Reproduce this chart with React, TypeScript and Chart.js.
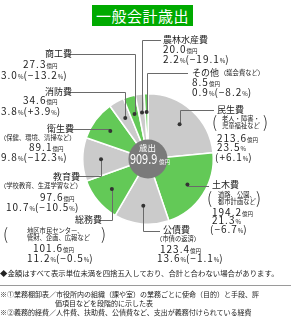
import React, { useEffect, useRef } from "react";
import { Chart, registerables } from "chart.js";
Chart.register(...registerables);

const categories = ["民生費", "土木費", "公債費", "総務費", "教育費", "衛生費", "消防費", "商工費", "農林水産費", "その他"];
const amounts = [213.6, 194.2, 123.4, 101.6, 97.6, 89.1, 34.6, 27.3, 20.0, 8.5];
const shares = [23.5, 21.3, 13.6, 11.2, 10.7, 9.8, 3.8, 3.0, 2.2, 0.9];
const changes = [6.1, -6.7, -1.1, -0.5, -10.5, -12.3, 3.9, -13.2, -19.1, -8.2];
const notes: string[][] = [
  ["老人・障害・", "児童福祉など"],
  ["道路、公園、", "都市計画など"],
  ["（市債の返済）"],
  ["地区市民センター、", "管財、企画、広報など"],
  ["（学校教育、生涯学習など）"],
  ["（保健、環境、清掃など）"],
  [],
  [],
  [],
  ["（議会費など）"],
];
const titleText = "一般会計歳出";
const centerLabel = "歳出";
const total = 909.9;
const unit = "億円";
const footnotes = [
  "◆金額はすべて表示単位未満を四捨五入しており、合計と合わない場合があります。",
  "※①業務棚卸表／市役所内の組織（課や室）の業務ごとに使命（目的）と手段、評",
  "価項目などを段階的に示した表",
  "※②義務的経費／人件費、扶助費、公債費など、支出が義務付けられている経費",
];

const GREEN = "#63c957";
const GREY = "#cbcbcb";
const sliceColors = categories.map((_, i) => (i % 2 === 0 ? GREY : GREEN));

// leader line layout: elbow y and end x for each category
const elbowY = [110, 186, 231, 220, 176, 129, 92, 54, 40, 73];
const endX = [214, 209, 160, 99, 76, 68, 68, 68, 161, 188];

type Pos = { x: number; y: number };
type Layout = {
  name: Pos;
  bracket?: { x: number; y1: number; y2: number; noteX: number; closeX: number };
  note?: Pos;
  amount: Pos;
  share: Pos;
  change?: Pos;
};
const layouts: Layout[] = [
  { name: { x: 217, y: 110 }, bracket: { x: 212, y1: 120, y2: 127, noteX: 222, closeX: 263 }, amount: { x: 217, y: 139 }, share: { x: 217, y: 148 }, change: { x: 215, y: 158 } },
  { name: { x: 212, y: 185 }, bracket: { x: 207, y1: 196, y2: 203, noteX: 218, closeX: 256 }, amount: { x: 212, y: 213 }, share: { x: 212, y: 221 }, change: { x: 210, y: 230 } },
  { name: { x: 163, y: 230 }, note: { x: 156, y: 240 }, amount: { x: 160, y: 250 }, share: { x: 157, y: 259 } },
  { name: { x: 75, y: 220 }, bracket: { x: 3, y1: 232, y2: 239, noteX: 27, closeX: 101 }, amount: { x: 33, y: 249 }, share: { x: 27, y: 259 } },
  { name: { x: 53, y: 177 }, note: { x: 0, y: 187 }, amount: { x: 40, y: 198 }, share: { x: 6, y: 208 } },
  { name: { x: 47, y: 129 }, note: { x: 0, y: 139 }, amount: { x: 29, y: 148 }, share: { x: 1, y: 158 } },
  { name: { x: 45, y: 92 }, amount: { x: 23, y: 101 }, share: { x: 1, y: 112 } },
  { name: { x: 45, y: 54 }, amount: { x: 23, y: 65 }, share: { x: 1, y: 76 } },
  { name: { x: 163, y: 40 }, amount: { x: 163, y: 50 }, share: { x: 163, y: 60 } },
  { name: { x: 192, y: 73 }, note: { x: 220, y: 74 }, amount: { x: 192, y: 83 }, share: { x: 192, y: 93 } },
];

const FONT = '"Noto Sans CJK JP", "Noto Sans CJK SC", sans-serif';

function T({ x, y, size, children, color = "#222", style = {} }: any) {
  return (
    <div
      style={{
        position: "absolute",
        left: x,
        top: y - size * 0.56,
        fontSize: size,
        lineHeight: size + "px",
        whiteSpace: "nowrap",
        color,
        ...style,
      }}
    >
      {children}
    </div>
  );
}

const fmtChange = (v: number) => (v >= 0 ? "+" : "−") + Math.abs(v).toFixed(1);
const small = (s: string, size = 5.5) => <span style={{ fontSize: size, letterSpacing: 0 }}>{s}</span>;

const overlayPlugin = {
  id: "overlay",
  afterDatasetsDraw(chart: any) {
    const ctx = chart.ctx;
    const arcs = chart.getDatasetMeta(0).data;
    const c = arcs[0].getProps(["x", "y", "outerRadius"], true);
    ctx.save();
    ctx.fillStyle = "#7a7a7a";
    ctx.beginPath();
    ctx.arc(c.x, c.y, c.outerRadius * 0.3, 0, Math.PI * 2);
    ctx.fill();
    arcs.forEach((arc: any, i: number) => {
      const p = arc.getProps(["x", "y", "startAngle", "endAngle", "outerRadius"], true);
      const mid = (p.startAngle + p.endAngle) / 2;
      const r = p.outerRadius * 0.72;
      const dx = p.x + Math.cos(mid) * r;
      const dy = p.y + Math.sin(mid) * r;
      const lx = Math.round(dx) + 0.5;
      const ly = elbowY[i] + 0.5;
      ctx.strokeStyle = "#6a6a6a";
      ctx.lineWidth = 1;
      ctx.beginPath();
      ctx.moveTo(lx, dy);
      ctx.lineTo(lx, ly);
      ctx.lineTo(endX[i], ly);
      ctx.stroke();
      ctx.fillStyle = "#333";
      ctx.beginPath();
      ctx.arc(dx, dy, 2, 0, Math.PI * 2);
      ctx.fill();
    });
    ctx.restore();
  },
};

export default function App() {
  const ref = useRef<HTMLCanvasElement>(null);
  useEffect(() => {
    const chart = new Chart(ref.current!, {
      type: "doughnut",
      data: {
        labels: categories,
        datasets: [
          {
            data: amounts,
            backgroundColor: sliceColors,
            borderColor: "#ffffff",
            borderWidth: 1.5,
          },
        ],
      },
      options: {
        responsive: false,
        animation: false,
        events: [],
        cutout: "25%",
        layout: { padding: { left: 82, top: 93, right: 79, bottom: 99 } },
        plugins: { legend: { display: false }, tooltip: { enabled: false } },
      },
      plugins: [overlayPlugin],
    });
    return () => chart.destroy();
  }, []);

  const numStyle = { letterSpacing: 1 };

  return (
    <div style={{ position: "fixed", left: 0, top: 0, width: 293, height: 324, background: "#fff", fontFamily: FONT, overflow: "hidden" }}>
      <canvas ref={ref} width={293} height={324} style={{ position: "absolute", left: 0, top: 0 }} />
      <div
        style={{
          position: "absolute",
          left: 92,
          top: 5,
          width: 101,
          height: 21,
          background: "#00aa00",
          color: "#fff",
          fontSize: 15,
          lineHeight: "21px",
          textAlign: "center",
          letterSpacing: 0.5,
        }}
      >
        {titleText}
      </div>
      {/* center label */}
      <T x={139} y={148} size={8.5} color="#fff">{centerLabel}</T>
      <div style={{ position: "absolute", left: 130, top: 151, color: "#fff", fontSize: 14, lineHeight: "14px", whiteSpace: "nowrap" }}>
        <span style={{ display: "inline-block", transform: "scaleX(0.78)", transformOrigin: "left", width: 29 }}>{total.toFixed(1)}</span>
        <span style={{ fontSize: 5.5 }}>{unit}</span>
      </div>
      {categories.map((cat, i) => {
        const L = layouts[i];
        const n = notes[i];
        return (
          <React.Fragment key={cat}>
            <T x={L.name.x} y={L.name.y} size={9}>{cat}</T>
            {L.bracket && (
              <>
                <T x={L.bracket.x} y={(L.bracket.y1 + L.bracket.y2) / 2 - 1.5} size={16} style={{ fontWeight: 300 }}>(</T>
                <T x={L.bracket.noteX} y={L.bracket.y1} size={6.3}>{n[0]}</T>
                <T x={L.bracket.noteX} y={L.bracket.y2} size={6.3}>{n[1]}</T>
                <T x={L.bracket.closeX} y={(L.bracket.y1 + L.bracket.y2) / 2 - 1.5} size={16} style={{ fontWeight: 300 }}>)</T>
              </>
            )}
            {L.note && <T x={L.note.x} y={L.note.y} size={6.3}>{n[0]}</T>}
            <T x={L.amount.x} y={L.amount.y} size={10} style={numStyle}>
              {amounts[i].toFixed(1)}
              {small(unit)}
            </T>
            {L.change ? (
              <>
                <T x={L.share.x} y={L.share.y} size={10} style={numStyle}>
                  {shares[i].toFixed(1)}
                  {small("%", 6)}
                </T>
                <T x={L.change.x} y={L.change.y} size={10} style={numStyle}>
                  ({fmtChange(changes[i])}
                  {small("%", 6)})
                </T>
              </>
            ) : (
              <T x={L.share.x} y={L.share.y} size={10} style={numStyle}>
                {shares[i].toFixed(1)}
                {small("%", 6)}({fmtChange(changes[i])}
                {small("%", 6)})
              </T>
            )}
          </React.Fragment>
        );
      })}
      <T x={0} y={273} size={7.4}>{footnotes[0]}</T>
      <div style={{ position: "absolute", left: 0, top: 285, width: 291, borderTop: "1px solid #9a9a9a" }} />
      <T x={0} y={295} size={7}>{footnotes[1]}</T>
      <T x={55} y={304} size={7}>{footnotes[2]}</T>
      <T x={0} y={313} size={7}>{footnotes[3]}</T>
    </div>
  );
}
